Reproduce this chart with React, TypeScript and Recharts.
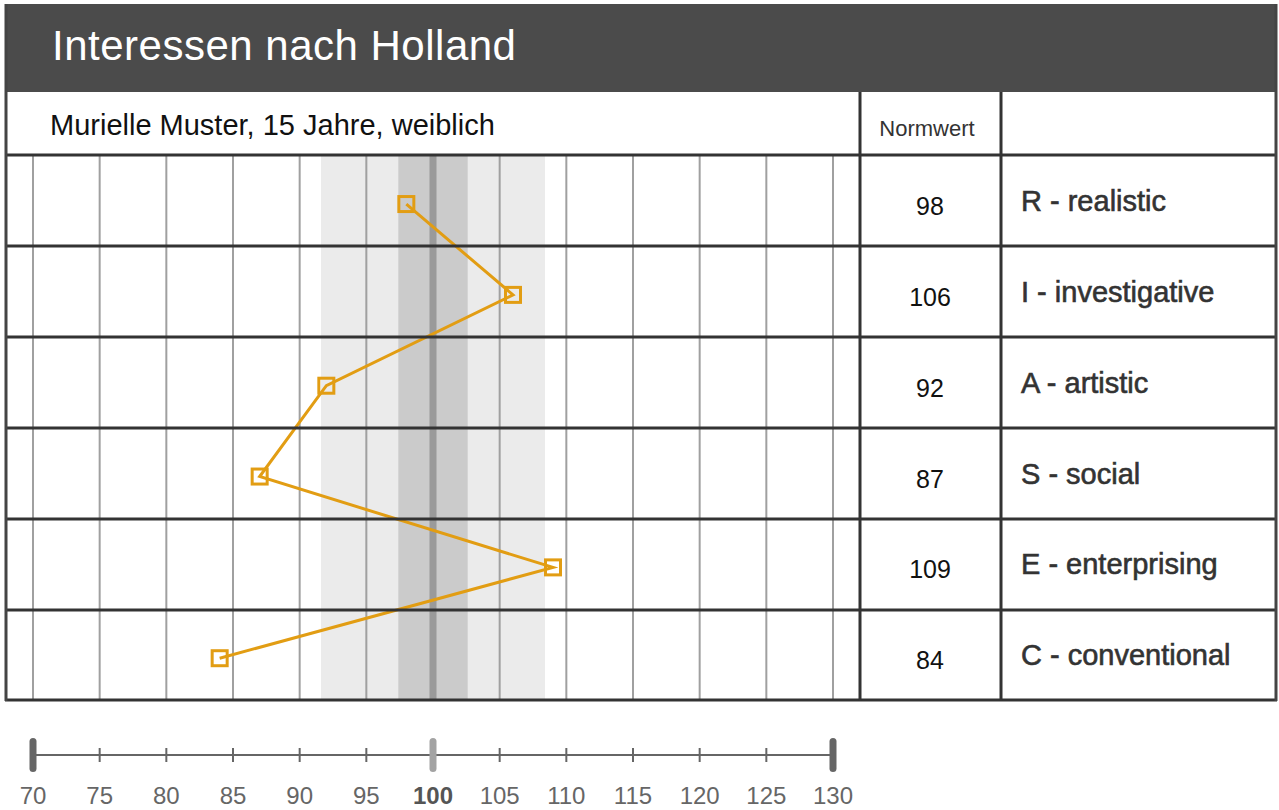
import React from 'react';
import {
  LineChart,
  Line,
  XAxis,
  YAxis,
  ReferenceArea,
  ReferenceLine,
} from 'recharts';

const categories = [
  'R - realistic',
  'I - investigative',
  'A - artistic',
  'S - social',
  'E - enterprising',
  'C - conventional',
];
const normValues = [98, 106, 92, 87, 109, 84];
const scaleTicks = [70, 75, 80, 85, 90, 95, 100, 105, 110, 115, 120, 125, 130];
const outerBand = [91.6, 108.4];
const innerBand = [97.4, 102.6];
const normCenter = 100;

const data = categories.map((name, i) => ({ name, row: i, value: normValues[i] }));

const FONT = '"Liberation Sans", Arial, Helvetica, sans-serif';
const ORANGE = '#E29D13';
const ROW_LINES = [155, 246, 337, 428, 519, 610, 700];

const SquareDot = (props: any) => {
  const { cx, cy } = props;
  if (cx == null || cy == null) return null;
  return (
    <rect x={cx - 7.5} y={cy - 7.5} width={15} height={15} fill="none" stroke={ORANGE} strokeWidth={3} />
  );
};

const RowTick = (props: any) => {
  const { x, y, payload } = props;
  const i = payload.value;
  return (
    <g fontFamily={FONT}>
      <text x={x + 97} y={y + 11} textAnchor="middle" fontSize={25} fill="#111">
        {normValues[i]}
      </text>
      <text x={x + 188} y={y + 7} fontSize={29} fill="#333" stroke="#333" strokeWidth={0.6}>
        {categories[i]}
      </text>
    </g>
  );
};

const ScaleTick = (props: any) => {
  const { x, y, payload } = props;
  const v = payload.value;
  const isEnd = v === 70 || v === 130;
  const isNorm = v === normCenter;
  return (
    <g fontFamily={FONT}>
      {isEnd || isNorm ? (
        <rect x={x - 3.5} y={y - 17} width={7} height={34} rx={3.5} fill={isEnd ? '#666' : '#a3a3a3'} />
      ) : (
        <line x1={x} x2={x} y1={y - 7} y2={y + 7} stroke="#666" strokeWidth={2} />
      )}
      <text
        x={x}
        y={y + 49}
        textAnchor="middle"
        fontSize={24}
        fontWeight={isNorm ? 'bold' : 'normal'}
        fill={isNorm ? '#555' : '#666'}
      >
        {v}
      </text>
    </g>
  );
};

const App: React.FC = () => {
  return (
    <div style={{ position: 'absolute', left: 0, top: 0, width: 1279, height: 810, background: '#fff', fontFamily: FONT }}>
      <div style={{ position: 'absolute', left: 5, top: 155 }}>
        <LineChart
          width={1272}
          height={545}
          data={data}
          layout="vertical"
          margin={{ top: 0, right: 0, bottom: 0, left: 28 }}
        >
          <XAxis type="number" dataKey="value" domain={[70, 130]} ticks={scaleTicks} hide />
          <YAxis
            type="number"
            dataKey="row"
            orientation="right"
            domain={[-0.54, 5.46]}
            ticks={[0, 1, 2, 3, 4, 5]}
            interval={0}
            width={444}
            axisLine={false}
            tickLine={false}
            tickSize={0}
            tickMargin={0}
            tick={<RowTick />}
          />
          <ReferenceArea x1={outerBand[0]} x2={outerBand[1]} fill="#ebebeb" fillOpacity={1} stroke="none" />
          <ReferenceArea x1={innerBand[0]} x2={innerBand[1]} fill="#cbcbcb" fillOpacity={1} stroke="none" />
          {scaleTicks.map((t) => (
            <ReferenceLine key={t} x={t} stroke="#a0a0a0" strokeWidth={2} />
          ))}
          <ReferenceLine x={normCenter} stroke="#9a9a9a" strokeWidth={7} />
          <Line
            dataKey="value"
            stroke={ORANGE}
            strokeWidth={3}
            dot={<SquareDot />}
            activeDot={false}
            isAnimationActive={false}
          />
        </LineChart>
      </div>

      <div style={{ position: 'absolute', left: 5, top: 735 }}>
        <LineChart
          width={1272}
          height={75}
          data={data}
          layout="vertical"
          margin={{ top: 10, right: 444, bottom: 0, left: 28 }}
        >
          <XAxis
            type="number"
            dataKey="value"
            domain={[70, 130]}
            ticks={scaleTicks}
            interval={0}
            height={55}
            axisLine={{ stroke: '#666', strokeWidth: 2 }}
            tickLine={false}
            tickSize={0}
            tickMargin={0}
            tick={<ScaleTick />}
          />
          <YAxis type="number" dataKey="row" hide domain={[-0.54, 5.46]} />
          <Line dataKey="value" stroke="none" dot={false} activeDot={false} isAnimationActive={false} />
        </LineChart>
      </div>

      <svg
        width={1279}
        height={810}
        style={{ position: 'absolute', left: 0, top: 0, pointerEvents: 'none' }}
        fontFamily={FONT}
      >
        <rect x={5} y={4} width={1272} height={88} fill="#4b4b4b" />
        <text x={52} y={60} fill="#fff" fontSize={42} letterSpacing={0.5}>
          Interessen nach Holland
        </text>
        <text x={50} y={135} fill="#111" fontSize={29}>
          Murielle Muster, 15 Jahre, weiblich
        </text>
        <text x={927} y={136} fill="#333" fontSize={22} textAnchor="middle">
          Normwert
        </text>
        {ROW_LINES.map((y) => (
          <line key={y} x1={5} x2={1277} y1={y} y2={y} stroke="#333" strokeWidth={3} />
        ))}
        <line x1={6} x2={6} y1={4} y2={701} stroke="#444" strokeWidth={3} />
        <line x1={860} x2={860} y1={92} y2={701} stroke="#333" strokeWidth={3} />
        <line x1={1001} x2={1001} y1={92} y2={701} stroke="#333" strokeWidth={3} />
        <line x1={1276} x2={1276} y1={4} y2={701} stroke="#444" strokeWidth={3} />
      </svg>
    </div>
  );
};

export default App;
